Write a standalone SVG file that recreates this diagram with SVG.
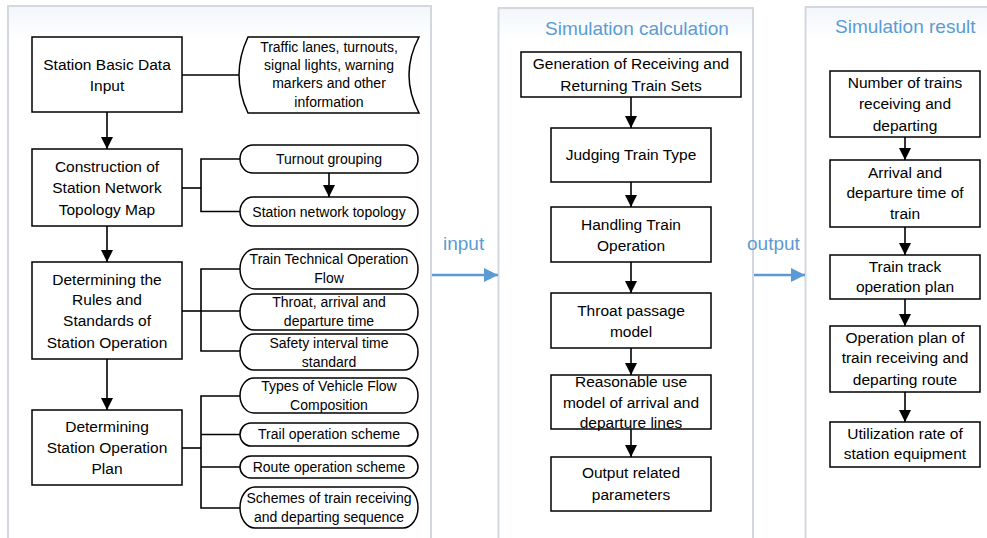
<svg xmlns="http://www.w3.org/2000/svg" width="987" height="538" viewBox="0 0 987 538">
<style>
.panel{fill:url(#pg);stroke:#d3d8df;stroke-width:2}
.box{fill:#fff;stroke:#000;stroke-width:1.5}
.t{font-family:"Liberation Sans",Arial,sans-serif;font-size:15.5px;fill:#000;text-anchor:middle}
.s{font-family:"Liberation Sans",Arial,sans-serif;font-size:14px;fill:#000;text-anchor:middle}
.b{font-family:"Liberation Sans",Arial,sans-serif;font-size:19px;fill:#5b9bd5}
.c{fill:none;stroke:#000;stroke-width:1.6}
.ca{fill:none;stroke:#000;stroke-width:1.6;marker-end:url(#ah)}
.bl{fill:none;stroke:#5b9bd5;stroke-width:2.6;marker-end:url(#bh)}
</style>
<defs>
<linearGradient id="pg" x1="0" y1="0" x2="0" y2="1">
<stop offset="0" stop-color="#f2f6fb"/>
<stop offset="0.06" stop-color="#ffffff"/>
<stop offset="1" stop-color="#ffffff"/>
</linearGradient>
<marker id="ah" viewBox="0 0 12 12" refX="12" refY="6" markerWidth="12" markerHeight="12" markerUnits="userSpaceOnUse" orient="auto">
<path d="M0,0 L12,6 L0,12 Z" fill="#000"/>
</marker>
<marker id="bh" viewBox="0 0 12 12" refX="12" refY="6" markerWidth="14" markerHeight="14" markerUnits="userSpaceOnUse" orient="auto">
<path d="M0,0 L12,6 L0,12 Z" fill="#5b9bd5"/>
</marker>
</defs>
<rect width="987" height="538" fill="#fff"/>
<g id="panels">
<rect class="panel" x="8" y="6" width="423" height="545"/>
<rect class="panel" x="498.5" y="8" width="254.5" height="545"/>
<rect class="panel" x="805.5" y="7" width="200" height="545"/>
<text class="b" x="545" y="35">Simulation calculation</text>
<text class="b" x="835" y="33">Simulation result</text>
</g>
<g id="connectors">
<line class="c" x1="182" y1="75" x2="239" y2="75"/>
<line class="ca" x1="107" y1="112" x2="107" y2="149"/>
<line class="ca" x1="107" y1="226" x2="107" y2="262"/>
<line class="ca" x1="107" y1="359" x2="107" y2="410"/>
<line class="c" x1="182" y1="188" x2="201" y2="188"/>
<path class="c" d="M240,159 H201 V211.5 H240"/>
<line class="ca" x1="329" y1="173" x2="329" y2="197"/>
<line class="c" x1="182" y1="311" x2="201" y2="311"/>
<path class="c" d="M240,269 H201 V351 H240 M201,311 H240"/>
<line class="c" x1="182" y1="448" x2="201" y2="448"/>
<path class="c" d="M240,396 H201 V508 H240 M201,434.5 H240 M201,467 H240"/>
<line class="ca" x1="631" y1="97" x2="631" y2="128"/>
<line class="ca" x1="631" y1="182" x2="631" y2="207"/>
<line class="ca" x1="631" y1="262" x2="631" y2="293"/>
<line class="ca" x1="631" y1="348" x2="631" y2="375"/>
<line class="ca" x1="631" y1="429" x2="631" y2="457"/>
<line class="ca" x1="905" y1="137" x2="905" y2="160"/>
<line class="ca" x1="905" y1="227" x2="905" y2="255"/>
<line class="ca" x1="905" y1="299" x2="905" y2="326"/>
<line class="ca" x1="905" y1="392" x2="905" y2="422"/>
<line class="bl" x1="432" y1="275" x2="498" y2="275"/>
<line class="bl" x1="754" y1="275" x2="805" y2="275"/>
<text class="b" x="443" y="250">input</text>
<text class="b" x="747" y="250">output</text>
</g>
<g id="n_basic">
<rect class="box" x="32" y="37" width="150" height="75"/>
<text class="t" x="107" y="70">Station Basic Data</text>
<text class="t" x="107" y="91">Input</text>
</g>
<g id="n_info">
<path class="box" d="M248,37 Q230,75 248,113 L419,113 Q399,75 419,37 Z"/>
<text class="s" x="329" y="52">Traffic lanes, turnouts,</text>
<text class="s" x="329" y="70">signal lights, warning</text>
<text class="s" x="329" y="88">markers and other</text>
<text class="s" x="329" y="107">information</text>
</g>
<g id="n_topo">
<rect class="box" x="32" y="149" width="150" height="77"/>
<text class="t" x="107" y="172">Construction of</text>
<text class="t" x="107" y="193">Station Network</text>
<text class="t" x="107" y="215">Topology Map</text>
</g>
<g id="n_turnout">
<rect class="box" x="240" y="145" width="178" height="28" rx="13" ry="14"/>
<text class="s" x="329" y="164">Turnout grouping</text>
</g>
<g id="n_nettopo">
<rect class="box" x="240" y="197" width="178" height="29" rx="13" ry="14.5"/>
<text class="s" x="329" y="216.5">Station network topology</text>
</g>
<g id="n_rules">
<rect class="box" x="32" y="262" width="150" height="97"/>
<text class="t" x="107" y="285">Determining the</text>
<text class="t" x="107" y="305">Rules and</text>
<text class="t" x="107" y="326">Standards of</text>
<text class="t" x="107" y="348">Station Operation</text>
</g>
<g id="n_flow">
<rect class="box" x="240" y="249" width="178" height="40" rx="15" ry="20"/>
<text class="s" x="329" y="264">Train Technical Operation</text>
<text class="s" x="329" y="283">Flow</text>
</g>
<g id="n_throat">
<rect class="box" x="240" y="294" width="178" height="36" rx="14" ry="18"/>
<text class="s" x="329" y="306.5">Throat, arrival and</text>
<text class="s" x="329" y="325.5">departure time</text>
</g>
<g id="n_safety">
<rect class="box" x="240" y="334" width="178" height="36" rx="14" ry="18"/>
<text class="s" x="329" y="348">Safety interval time</text>
<text class="s" x="329" y="367">standard</text>
</g>
<g id="n_plan">
<rect class="box" x="32" y="410" width="150" height="75"/>
<text class="t" x="107" y="432">Determining</text>
<text class="t" x="107" y="453">Station Operation</text>
<text class="t" x="107" y="474">Plan</text>
</g>
<g id="n_types">
<rect class="box" x="240" y="378" width="178" height="35" rx="14" ry="17.5"/>
<text class="s" x="329" y="391">Types of Vehicle Flow</text>
<text class="s" x="329" y="410">Composition</text>
</g>
<g id="n_trail">
<rect class="box" x="240" y="423" width="178" height="23" rx="11" ry="11.5"/>
<text class="s" x="329" y="439">Trail operation scheme</text>
</g>
<g id="n_route">
<rect class="box" x="240" y="456" width="178" height="22" rx="11" ry="11"/>
<text class="s" x="329" y="472">Route operation scheme</text>
</g>
<g id="n_seq">
<rect class="box" x="240" y="487" width="178" height="41" rx="15" ry="20.5"/>
<text class="s" x="329" y="503">Schemes of train receiving</text>
<text class="s" x="329" y="522">and departing sequence</text>
</g>
<g id="n_gen">
<rect class="box" x="521" y="52" width="220" height="45"/>
<text class="t" x="631" y="69">Generation of Receiving and</text>
<text class="t" x="631" y="91">Returning Train Sets</text>
</g>
<g id="n_judge">
<rect class="box" x="551" y="128" width="160" height="54"/>
<text class="t" x="631" y="160">Judging Train Type</text>
</g>
<g id="n_handle">
<rect class="box" x="551" y="207" width="160" height="55"/>
<text class="t" x="631" y="230">Handling Train</text>
<text class="t" x="631" y="251">Operation</text>
</g>
<g id="n_throatmodel">
<rect class="box" x="551" y="293" width="160" height="55"/>
<text class="t" x="631" y="316">Throat passage</text>
<text class="t" x="631" y="337">model</text>
</g>
<g id="n_lines">
<rect class="box" x="551" y="375" width="160" height="54"/>
<text class="t" x="631" y="387">Reasonable use</text>
<text class="t" x="631" y="408">model of arrival and</text>
<text class="t" x="631" y="428">departure lines</text>
</g>
<g id="n_output">
<rect class="box" x="551" y="457" width="160" height="54"/>
<text class="t" x="631" y="478">Output related</text>
<text class="t" x="631" y="500">parameters</text>
</g>
<g id="n_number">
<rect class="box" x="830" y="71" width="150" height="66"/>
<text class="t" x="905" y="88">Number of trains</text>
<text class="t" x="905" y="109">receiving and</text>
<text class="t" x="905" y="131">departing</text>
</g>
<g id="n_arrtime">
<rect class="box" x="830" y="160" width="150" height="67"/>
<text class="t" x="905" y="178">Arrival and</text>
<text class="t" x="905" y="198">departure time of</text>
<text class="t" x="905" y="219">train</text>
</g>
<g id="n_track">
<rect class="box" x="830" y="255" width="150" height="44"/>
<text class="t" x="905" y="272">Train track</text>
<text class="t" x="905" y="292">operation plan</text>
</g>
<g id="n_routeplan">
<rect class="box" x="830" y="326" width="150" height="66"/>
<text class="t" x="905" y="343">Operation plan of</text>
<text class="t" x="905" y="363">train receiving and</text>
<text class="t" x="905" y="385">departing route</text>
</g>
<g id="n_util">
<rect class="box" x="830" y="422" width="150" height="45"/>
<text class="t" x="905" y="439">Utilization rate of</text>
<text class="t" x="905" y="459">station equipment</text>
</g>
</svg>
